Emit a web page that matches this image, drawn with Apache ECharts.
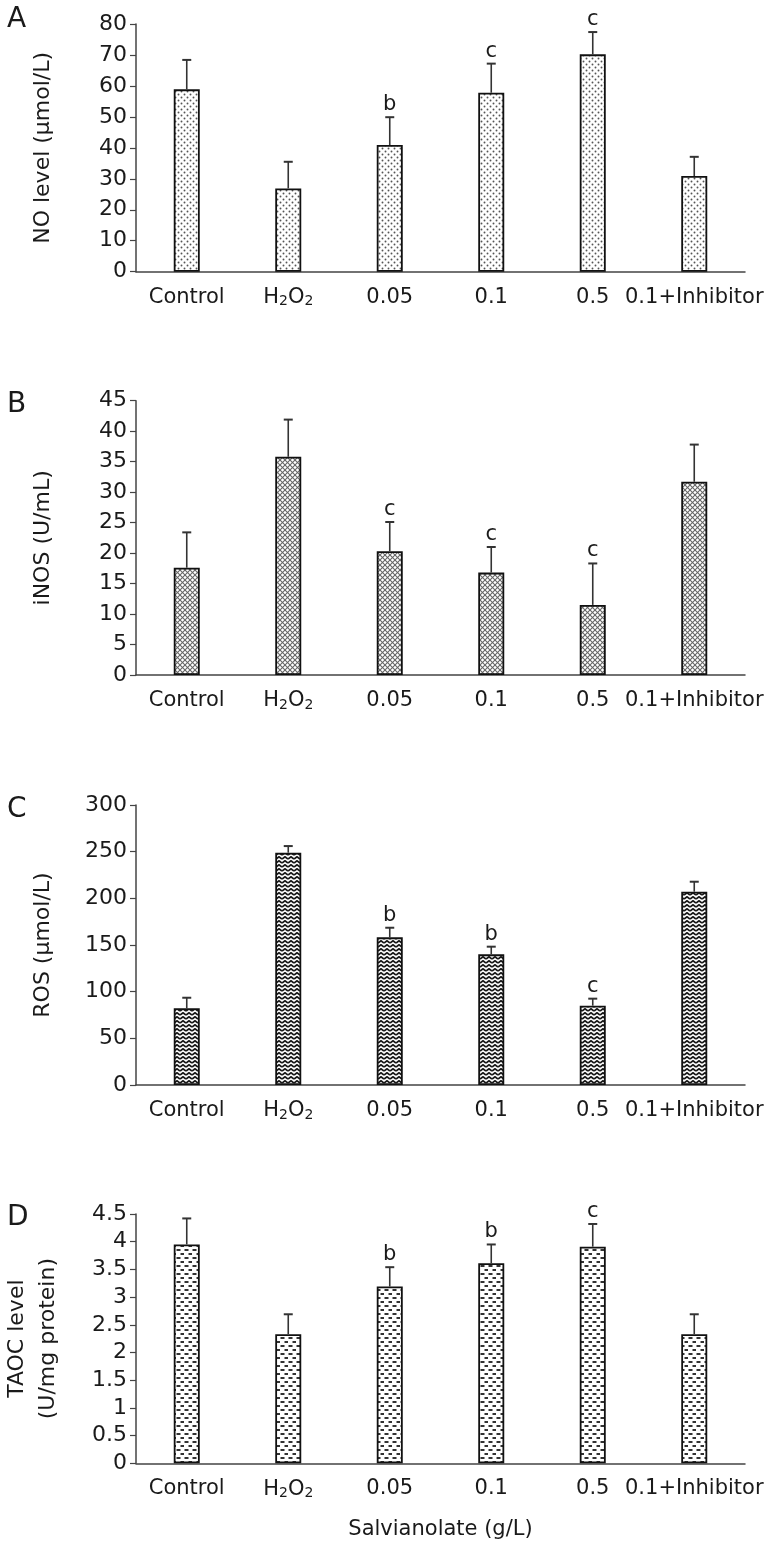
<!DOCTYPE html>
<html>
<head>
<meta charset="utf-8">
<script src="https://cdn.jsdelivr.net/npm/echarts@6/dist/echarts.min.js"></script>
<style>
html,body{margin:0;padding:0;background:#fff;}
#chart{width:781px;height:1550px;}
</style>
</head>
<body>
<div id="chart"></div>
<script>
// ---- data ----
const categories = ['Control', 'H2O2', '0.05', '0.1', '0.5', '0.1+Inhibitor'];

const noMean  = [58.9, 26.9, 40.9, 57.8, 70.2, 30.9];
const noSD    = [9.5, 8.6, 9.0, 9.4, 7.2, 6.2];
const noSig   = ['', '', 'b', 'c', 'c', ''];

const inosMean = [17.6, 35.8, 20.3, 16.8, 11.5, 31.7];
const inosSD   = [5.8, 6.1, 4.8, 4.2, 6.8, 6.1];
const inosSig  = ['', '', 'c', 'c', 'c', ''];

const rosMean = [82.2, 248.9, 158.2, 140.0, 85.0, 207.1];
const rosSD   = [11.3, 7.1, 10.3, 8.2, 7.5, 10.7];
const rosSig  = ['', '', 'b', 'b', 'c', ''];

const taocMean = [3.95, 2.33, 3.19, 3.61, 3.91, 2.33];
const taocSD   = [0.47, 0.36, 0.35, 0.34, 0.41, 0.36];
const taocSig  = ['', '', 'b', 'b', 'c', ''];

const yMax      = [80, 45, 300, 4.5];
const yInterval = [10, 5, 50, 0.5];
const yNames    = ['NO level (µmol/L)', 'iNOS (U/mL)', 'ROS (µmol/L)', 'TAOC level\n(U/mg protein)'];
const panelLetters = ['A', 'B', 'C', 'D'];
const xAxisTitle = 'Salvianolate (g/L)';

// ---- patterns (style only) ----
function mk(w, h, draw) {
  const c = document.createElement('canvas');
  c.width = w; c.height = h;
  const g = c.getContext('2d');
  g.fillStyle = '#fff'; g.fillRect(0, 0, w, h);
  draw(g);
  return c;
}
const patDots = mk(6, 6, g => {
  g.fillStyle = '#555';
  g.beginPath(); g.arc(1.5, 1.5, 0.95, 0, Math.PI * 2); g.fill();
  g.beginPath(); g.arc(4.5, 4.5, 0.95, 0, Math.PI * 2); g.fill();
});
const patCross = mk(5, 5, g => {
  g.strokeStyle = '#666'; g.lineWidth = 1.1;
  g.beginPath(); g.moveTo(0, 0); g.lineTo(5, 5); g.stroke();
  g.beginPath(); g.moveTo(5, 0); g.lineTo(0, 5); g.stroke();
});
const patZig = mk(6, 4, g => {
  g.strokeStyle = '#1a1a1a'; g.lineWidth = 1.8;
  g.beginPath(); g.moveTo(0, 3); g.lineTo(3, 0.8); g.lineTo(6, 3); g.stroke();
});
const patDash = mk(8, 8, g => {
  g.fillStyle = '#333';
  g.fillRect(0.5, 1, 4, 2);
  g.fillRect(4.5, 5, 4, 2);
});
const patterns = [patDots, patCross, patZig, patDash];

const means = [noMean, inosMean, rosMean, taocMean];
const sds = [noSD, inosSD, rosSD, taocSD];
const sigs = [noSig, inosSig, rosSig, taocSig];

// ---- layout ----
const grids = [
  {left: 136, width: 609, top: 24, height: 247.7, outerBoundsMode: 'none', containLabel: false},
  {left: 136, width: 609, top: 400.7, height: 274.3, outerBoundsMode: 'none', containLabel: false},
  {left: 136, width: 609, top: 805, height: 280, outerBoundsMode: 'none', containLabel: false},
  {left: 136, width: 609, top: 1214, height: 249.3, outerBoundsMode: 'none', containLabel: false}
];
const letterY = [21, 406, 811, 1219];

const FONT = 'DejaVu Sans';
const TXT = '#1a1a1a';
const AX = '#444';

const xAxes = [], yAxes = [], series = [], graphics = [];
for (let p = 0; p < 4; p++) {
  xAxes.push({
    type: 'category', gridIndex: p, data: categories,
    axisLine: {lineStyle: {color: AX, width: 1.5}},
    axisTick: {show: false},
    axisLabel: {
      color: TXT, fontFamily: FONT, fontSize: 21, margin: 15, interval: 0,
      formatter: v => v === 'H2O2' ? 'H{s|2}O{s|2}' : v,
      rich: {s: {fontSize: 14, fontFamily: FONT, color: TXT, verticalAlign: 'bottom', padding: [8, 0, 0, 0]}}
    },
    name: p === 3 ? xAxisTitle : '',
    nameLocation: 'middle', nameGap: 56,
    nameTextStyle: {color: TXT, fontFamily: FONT, fontSize: 21}
  });
  yAxes.push({
    type: 'value', gridIndex: p, min: 0, max: yMax[p], interval: yInterval[p],
    splitLine: {show: false},
    axisLine: {show: true, lineStyle: {color: AX, width: 1.5}},
    axisTick: {show: true, length: 6, lineStyle: {color: AX, width: 1.2}},
    axisLabel: {color: TXT, fontFamily: FONT, fontSize: 22, margin: 9},
    name: yNames[p], nameLocation: 'middle', nameRotate: 90,
    nameGap: p === 3 ? 72 : 77,
    nameTextStyle: {color: TXT, fontFamily: FONT, fontSize: 22, lineHeight: 31}
  });
  series.push({
    type: 'bar', xAxisIndex: p, yAxisIndex: p, barWidth: 26,
    data: means[p],
    itemStyle: {color: {image: patterns[p], repeat: 'repeat'}, borderColor: '#111', borderWidth: 1.8},
    z: 2
  });
  const sd = sds[p], sg = sigs[p];
  series.push({
    type: 'custom', xAxisIndex: p, yAxisIndex: p, z: 3,
    data: means[p].map((m, i) => [i, m, m + sd[i]]),
    renderItem: (params, api) => {
      const b = api.coord([api.value(0), api.value(1)]);
      const t = api.coord([api.value(0), api.value(2)]);
      const children = [
        {type: 'line', shape: {x1: b[0], y1: b[1], x2: t[0], y2: t[1]}, style: {stroke: '#333', lineWidth: 1.6}},
        {type: 'line', shape: {x1: t[0] - 4.5, y1: t[1], x2: t[0] + 4.5, y2: t[1]}, style: {stroke: '#333', lineWidth: 2}}
      ];
      const s = sg[params.dataIndex];
      if (s) {
        children.push({type: 'text', style: {text: s, x: t[0], y: t[1] - 2, align: 'center', verticalAlign: 'bottom',
          fontFamily: FONT, fontSize: 21, fill: TXT}});
      }
      return {type: 'group', children};
    }
  });
  graphics.push({type: 'text', left: 7, top: letterY[p] - 15,
    style: {text: panelLetters[p], fontFamily: FONT, fontSize: 28, fill: TXT}});
}

const chart = echarts.init(document.getElementById('chart'), null, {renderer: 'canvas'});
chart.setOption({
  animation: false,
  backgroundColor: '#fff',
  grid: grids,
  xAxis: xAxes,
  yAxis: yAxes,
  series: series,
  graphic: graphics
});
</script>
</body>
</html>
